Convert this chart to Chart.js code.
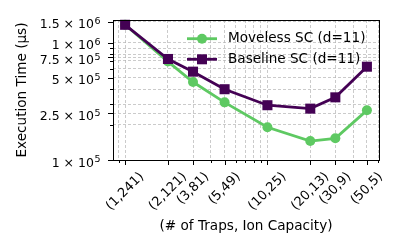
<!DOCTYPE html>
<html>
<head>
<meta charset="utf-8">
<script src="https://cdn.jsdelivr.net/npm/chart.js@4/dist/chart.umd.min.js"></script>
<style>
html,body{margin:0;padding:0;background:#fff;}
#wrap{width:400px;height:250px;position:relative;}
</style>
</head>
<body>
<div id="wrap"><canvas id="c" width="400" height="250"></canvas></div>
<script>
const categories = ['(1,241)','(2,121)','(3,81)','(5,49)','(10,25)','(20,13)','(30,9)','(50,5)'];
const traps = [1, 2, 3, 5, 10, 20, 30, 50];
const moveless = [1.42e6, 6.9e5, 4.62e5, 3.1e5, 1.9e5, 1.45e5, 1.53e5, 2.65e5];
const baseline = [1.42e6, 7.26e5, 5.66e5, 4.01e5, 2.93e5, 2.74e5, 3.42e5, 6.24e5];
const seriesNames = ['Moveless SC (d=11)', 'Baseline SC (d=11)'];
const yTickValues = [1e5, 2.5e5, 5e5, 7.5e5, 1e6, 1.5e6];
const yTickMantissa = ['1', '2.5', '5', '7.5', '1', '1.5'];
const yTickExponent = ['5', '5', '5', '5', '6', '6'];
const yMinorValues = [2e5, 3e5, 4e5, 6e5, 7e5, 8e5, 9e5];
const xMinorValues = [0.9, 4, 6, 7, 8, 9, 40, 60];

const GREEN = '#5ec962';
const PURPLE = '#440154';
const FONT = 'DejaVu Sans';
const TICK_FONT = 13;
const YTICK_FONT = 12.5;
const SUP_FONT = 9.5;
const LABEL_FONT = 13.6;

const extras = {
  id: 'extras',
  afterDraw(chart) {
    const ctx = chart.ctx;
    const a = chart.chartArea;
    const xs = chart.scales.x, ys = chart.scales.y;
    ctx.save();
    // spines
    ctx.strokeStyle = '#000';
    ctx.lineWidth = 1;
    ctx.setLineDash([]);
    ctx.strokeRect(Math.round(a.left) + 0.5, Math.round(a.top) + 0.5, Math.round(a.right - a.left), Math.round(a.bottom - a.top));
    // y ticks
    ctx.beginPath();
    yTickValues.forEach(v => { const y = Math.round(ys.getPixelForValue(v)) + 0.5; ctx.moveTo(a.left, y); ctx.lineTo(a.left - 5, y); });
    yMinorValues.forEach(v => { const y = Math.round(ys.getPixelForValue(v)) + 0.5; ctx.moveTo(a.left, y); ctx.lineTo(a.left - 3, y); });
    // x ticks
    traps.forEach(v => { const x = Math.round(xs.getPixelForValue(v)) + 0.5; ctx.moveTo(x, a.bottom); ctx.lineTo(x, a.bottom + 5); });
    xMinorValues.forEach(v => { const x = Math.round(xs.getPixelForValue(v)) + 0.5; ctx.moveTo(x, a.bottom); ctx.lineTo(x, a.bottom + 3); });
    ctx.stroke();
    ctx.fillStyle = '#000';
    // y tick labels: mantissa × 10^exp
    const rightX = a.left - 12.5;
    ctx.textAlign = 'left';
    ctx.textBaseline = 'alphabetic';
    yTickValues.forEach((v, i) => {
      const y = ys.getPixelForValue(v);
      ctx.font = SUP_FONT + 'px "' + FONT + '"';
      const sw = ctx.measureText(yTickExponent[i]).width;
      ctx.font = YTICK_FONT + 'px "' + FONT + '"';
      const base = yTickMantissa[i] + ' × 10';
      const bw = ctx.measureText(base).width;
      const x0 = rightX - sw - 0.5 - bw;
      ctx.fillText(base, x0, y + 6.5);
      ctx.font = SUP_FONT + 'px "' + FONT + '"';
      ctx.fillText(yTickExponent[i], x0 + bw + 0.5, y + 2.3);
    });
    // x tick labels rotated 45, bbox top-centered at tick
    ctx.font = TICK_FONT + 'px "' + FONT + '"';
    ctx.textAlign = 'center';
    ctx.textBaseline = 'middle';
    const top = a.bottom + 9.5;
    const h = TICK_FONT * 1.15;
    traps.forEach((v, i) => {
      const x = xs.getPixelForValue(v);
      const w = ctx.measureText(categories[i]).width;
      const H = (w + h) * Math.SQRT1_2;
      ctx.save();
      ctx.translate(x, top + H / 2);
      ctx.rotate(-Math.PI / 4);
      ctx.fillText(categories[i], 0, 0);
      ctx.restore();
    });
    // legend
    const rows = [38.7, 59.3];
    const colors = [GREEN, PURPLE];
    ctx.font = LABEL_FONT + 'px "' + FONT + '"';
    ctx.textAlign = 'left';
    rows.forEach((ry, i) => {
      ctx.strokeStyle = colors[i];
      ctx.lineWidth = 2.8;
      ctx.beginPath();
      ctx.moveTo(187, ry); ctx.lineTo(217, ry);
      ctx.stroke();
      ctx.fillStyle = colors[i];
      if (i === 0) { ctx.beginPath(); ctx.arc(202, ry, 5, 0, Math.PI * 2); ctx.fill(); }
      else { ctx.fillRect(197, ry - 5, 10, 10); }
      ctx.fillStyle = '#000';
      ctx.fillText(seriesNames[i], 228, ry);
    });
    ctx.restore();
  }
};

const gridOpts = {
  color: 'rgba(178,178,178,0.85)',
  lineWidth: 0.8,
  drawTicks: false
};
const borderOpts = { display: false, dash: [3, 2] };

new Chart(document.getElementById('c'), {
  type: 'line',
  data: {
    datasets: [
      {
        label: seriesNames[0],
        data: traps.map((t, i) => ({ x: t, y: moveless[i] })),
        borderColor: GREEN, backgroundColor: GREEN,
        borderWidth: 2.8, pointStyle: 'circle', pointRadius: 5, pointBorderWidth: 0,
        pointBackgroundColor: GREEN, tension: 0, clip: false, order: 1
      },
      {
        label: seriesNames[1],
        data: traps.map((t, i) => ({ x: t, y: baseline[i] })),
        borderColor: PURPLE, backgroundColor: PURPLE,
        borderWidth: 2.8, pointStyle: 'rect', pointRadius: 7.1, pointBorderWidth: 0,
        pointBackgroundColor: PURPLE, tension: 0, clip: false, order: 0
      }
    ]
  },
  options: {
    responsive: false,
    animation: false,
    devicePixelRatio: 1,
    layout: { padding: { left: 0, top: 20, right: 21, bottom: 0 } },
    plugins: { legend: { display: false }, tooltip: { enabled: false } },
    scales: {
      x: {
        type: 'logarithmic',
        min: 0.822, max: 60.8,
        afterBuildTicks: s => { s.ticks = traps.concat(xMinorValues).sort((p, q) => p - q).map(v => ({ value: v })); },
        afterFit: s => { s.height = 90; },
        ticks: { display: false },
        grid: gridOpts,
        border: borderOpts,
        title: {
          display: true, text: '(# of Traps, Ion Capacity)', color: '#000',
          font: { family: FONT, size: LABEL_FONT }, padding: { top: 0, bottom: 15 }
        }
      },
      y: {
        type: 'logarithmic',
        min: 1e5, max: 1.56e6,
        afterBuildTicks: s => { s.ticks = yTickValues.concat(yMinorValues).sort((p, q) => p - q).map(v => ({ value: v })); },
        afterFit: s => { s.width = 113; },
        ticks: { display: false },
        grid: gridOpts,
        border: borderOpts,
        title: {
          display: true, text: 'Execution Time (μs)', color: '#000',
          font: { family: FONT, size: LABEL_FONT }, padding: { top: 14, bottom: 0 }
        }
      }
    }
  },
  plugins: [extras]
});
</script>
</body>
</html>
